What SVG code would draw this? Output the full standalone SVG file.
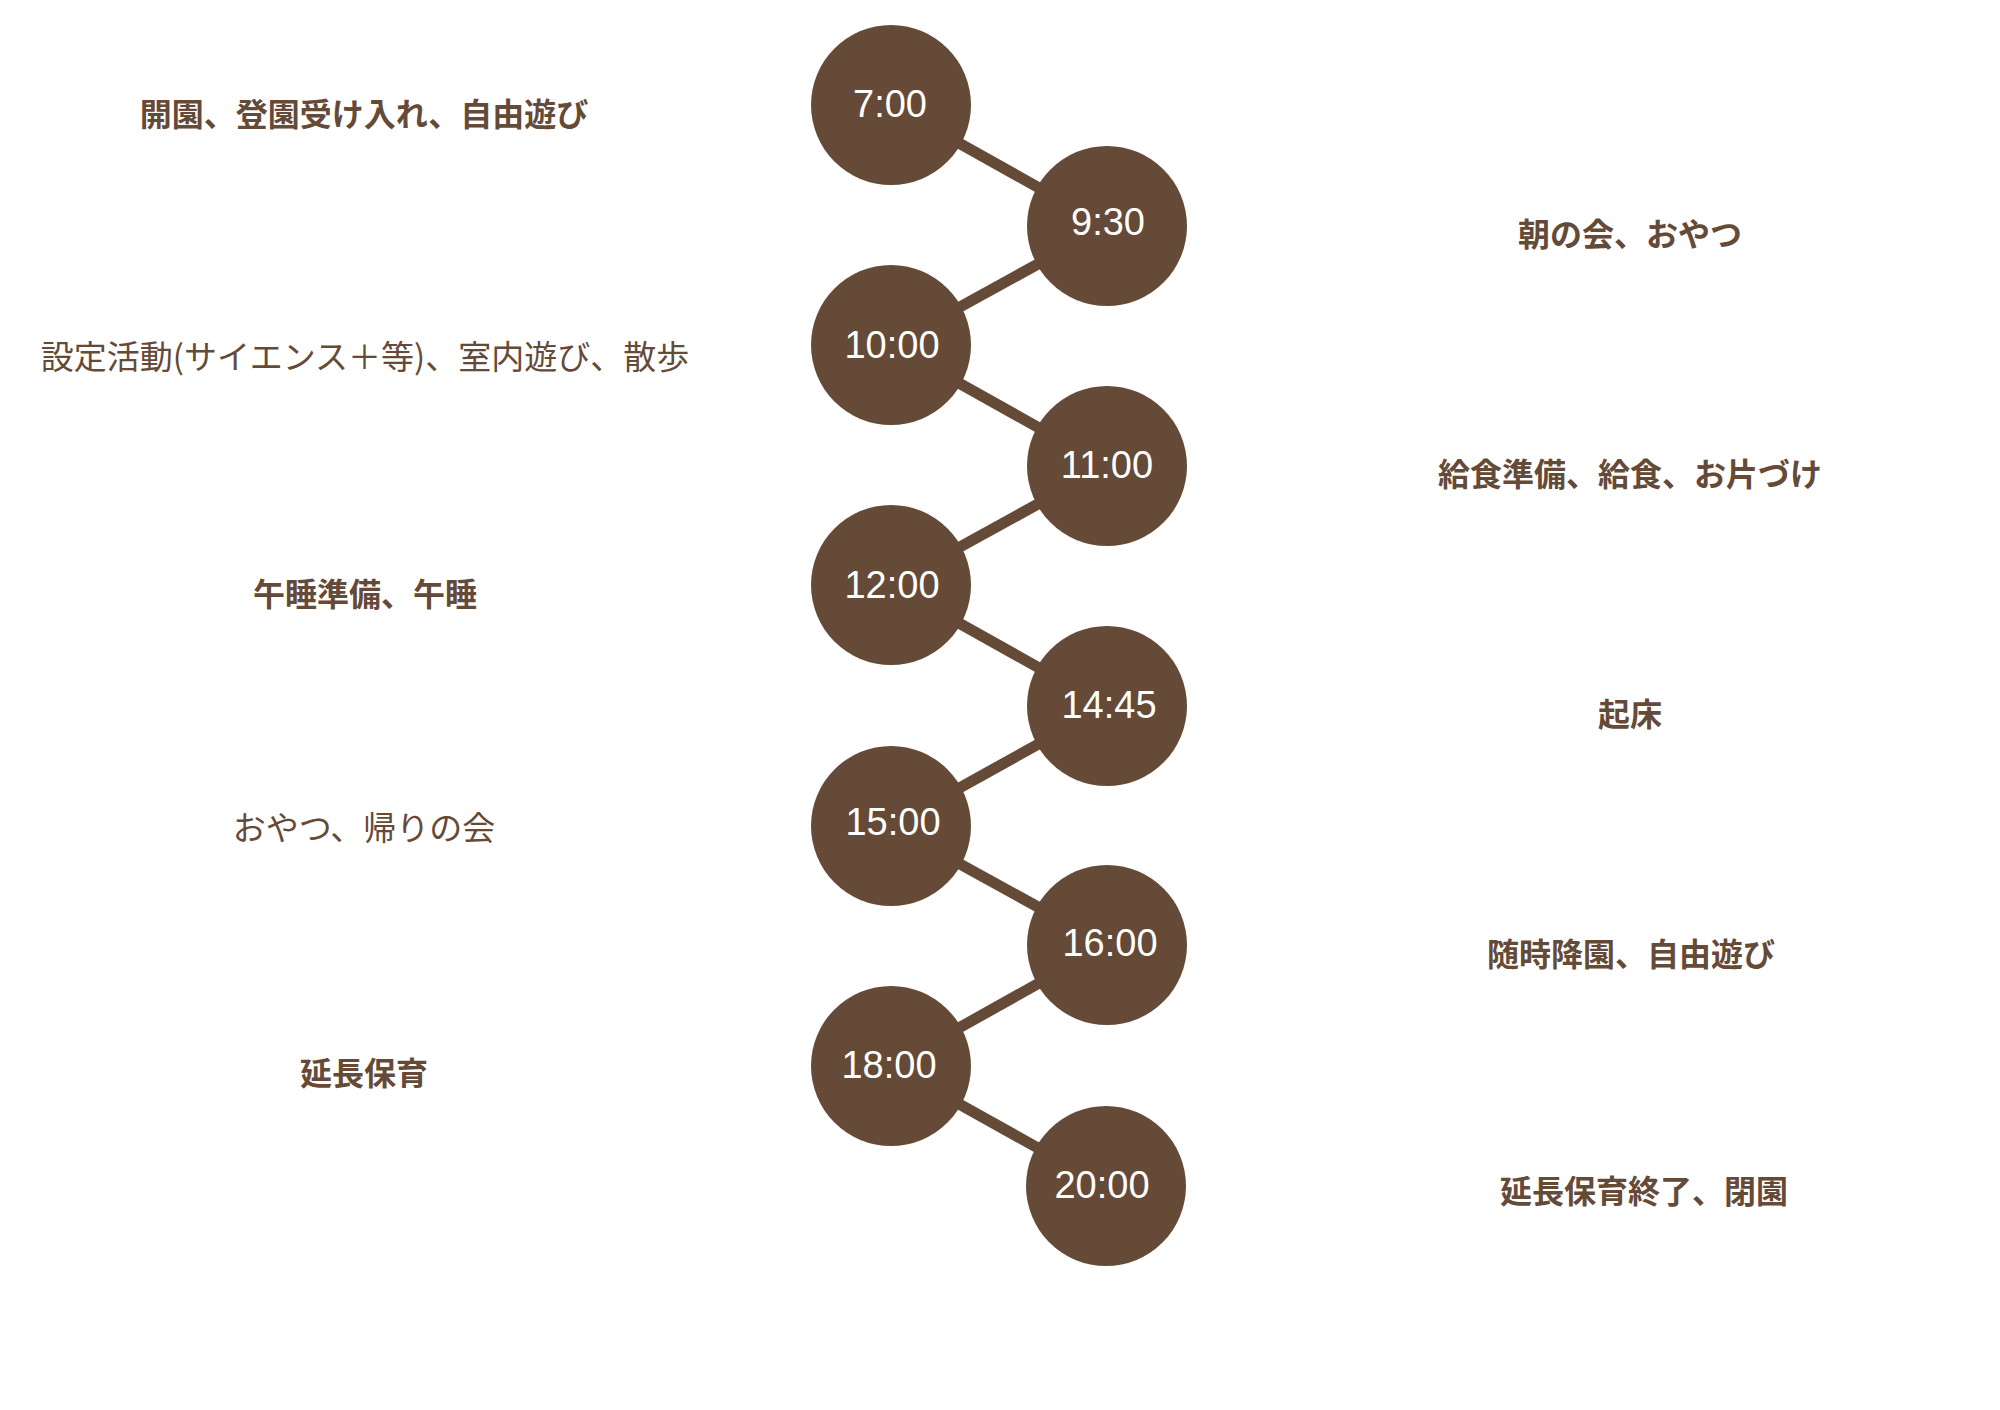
<svg xmlns="http://www.w3.org/2000/svg" width="2000" height="1410" viewBox="0 0 2000 1410">
<style>
.bg{fill:#ffffff}
.edge{stroke:#654a38;stroke-width:11;fill:none}
.dot{fill:#654a38}
.time{fill:#ffffff;font-family:"Liberation Sans","Noto Sans CJK JP",sans-serif;font-size:38px;text-anchor:middle}
.lbl{fill:#654a38;font-family:"Noto Sans CJK JP",sans-serif;font-size:32px;text-anchor:middle;dominant-baseline:central}
.b{font-weight:700}
.r{font-weight:400;font-size:33px}
</style>
<rect class="bg" x="0" y="0" width="2000" height="1410"/>
<g id="connectors">
<line class="edge" x1="891" y1="105" x2="1107" y2="226"/>
<line class="edge" x1="1107" y1="226" x2="891" y2="345"/>
<line class="edge" x1="891" y1="345" x2="1107" y2="466"/>
<line class="edge" x1="1107" y1="466" x2="891" y2="585"/>
<line class="edge" x1="891" y1="585" x2="1107" y2="706"/>
<line class="edge" x1="1107" y1="706" x2="891" y2="826"/>
<line class="edge" x1="891" y1="826" x2="1107" y2="945"/>
<line class="edge" x1="1107" y1="945" x2="891" y2="1066"/>
<line class="edge" x1="891" y1="1066" x2="1106" y2="1186"/>
</g>
<g id="n700"><circle class="dot" cx="891" cy="105" r="80"/><text class="time" x="890" y="117">7:00</text></g>
<g id="n930"><circle class="dot" cx="1107" cy="226" r="80"/><text class="time" x="1108" y="235">9:30</text></g>
<g id="n1000"><circle class="dot" cx="891" cy="345" r="80"/><text class="time" x="892" y="358">10:00</text></g>
<g id="n1100"><circle class="dot" cx="1107" cy="466" r="80"/><text class="time" x="1107" y="478">11:00</text></g>
<g id="n1200"><circle class="dot" cx="891" cy="585" r="80"/><text class="time" x="892" y="598">12:00</text></g>
<g id="n1445"><circle class="dot" cx="1107" cy="706" r="80"/><text class="time" x="1109" y="718">14:45</text></g>
<g id="n1500"><circle class="dot" cx="891" cy="826" r="80"/><text class="time" x="893" y="835">15:00</text></g>
<g id="n1600"><circle class="dot" cx="1107" cy="945" r="80"/><text class="time" x="1110" y="956">16:00</text></g>
<g id="n1800"><circle class="dot" cx="891" cy="1066" r="80"/><text class="time" x="889" y="1078">18:00</text></g>
<g id="n2000"><circle class="dot" cx="1106" cy="1186" r="80"/><text class="time" x="1102" y="1198">20:00</text></g>
<g id="labels">
<text class="lbl b" x="364" y="112">開園、登園受け入れ、自由遊び</text>
<text class="lbl r" x="365" y="355">設定活動(サイエンス＋等)、室内遊び、散歩</text>
<text class="lbl b" x="365" y="592">午睡準備、午睡</text>
<text class="lbl r" x="364" y="826">おやつ、帰りの会</text>
<text class="lbl b" x="364" y="1071">延長保育</text>
<text class="lbl b" x="1630" y="232">朝の会、おやつ</text>
<text class="lbl b" x="1630" y="472">給食準備、給食、お片づけ</text>
<text class="lbl b" x="1630" y="712">起床</text>
<text class="lbl b" x="1631" y="952">随時降園、自由遊び</text>
<text class="lbl b" x="1644" y="1189">延長保育終了、閉園</text>
</g>
</svg>
